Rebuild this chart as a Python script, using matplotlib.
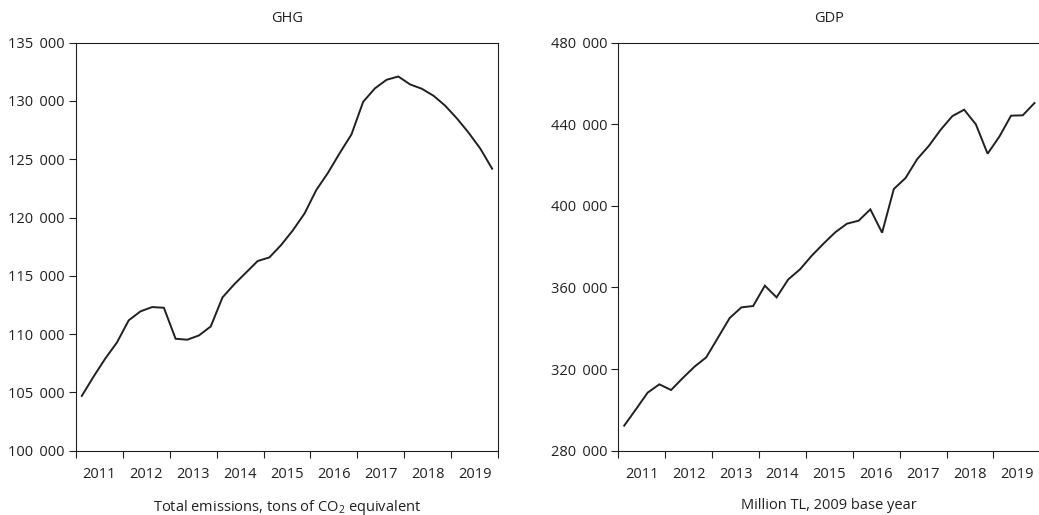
import matplotlib
matplotlib.use("Agg")
import matplotlib.pyplot as plt
import numpy as np
from matplotlib.ticker import FixedLocator, NullFormatter, FixedFormatter

plt.rcParams['font.family'] = ['Open Sans', 'Noto Sans', 'DejaVu Sans']
plt.rcParams['mathtext.fontset'] = 'custom'
plt.rcParams['mathtext.rm'] = 'Open Sans'
plt.rcParams['mathtext.it'] = 'Open Sans'

years = [2011, 2012, 2013, 2014, 2015, 2016, 2017, 2018, 2019]
year_labels = [str(y) for y in years]

ghg = [104700, 106350, 107900, 109290,
       111180, 111950, 112320, 112260,
       109600, 109520, 109890, 110660,
       113150, 114270, 115270, 116270,
       116580, 117640, 118900, 120350,
       122360, 123840, 125530, 127130,
       129930, 131080, 131820, 132100,
       131420, 131050, 130450, 129590,
       128500, 127270, 125900, 124190]

gdp = [292250, 300260, 308430, 312520,
       309740, 315620, 321180, 325750,
       335390, 345030, 350260, 350910,
       360880, 355160, 363990, 368890,
       375590, 381470, 387030, 391270,
       392750, 398300, 386860, 408270,
       413660, 422970, 429510, 437350,
       444050, 447160, 439970, 425590,
       433920, 444220, 444400, 450430]

ghg_ticks = [100000, 105000, 110000, 115000, 120000, 125000, 130000, 135000]
gdp_ticks = [280000, 320000, 360000, 400000, 440000, 480000]

ink = '#231f20'
x = np.array([y + (q + 0.5) / 4 for y in years for q in range(4)])

fig = plt.figure(figsize=(10.39, 5.15), dpi=100)
axL = fig.add_axes([0.0731, 0.1249, 0.4062, 0.7922])
axR = fig.add_axes([0.5951, 0.1249, 0.4062, 0.7922])

def fmt(v):
    return f"{v:,}".replace(",", " \u2006")

def style(ax, yvals, yticks, title, xlabel):
    ax.plot(x, yvals, color=ink, lw=1.4, solid_joinstyle='miter')
    ax.set_xlim(2011, 2020)
    ax.set_ylim(yticks[0], yticks[-1])
    ax.set_yticks(yticks)
    ax.set_yticklabels([fmt(t) for t in yticks])
    ax.xaxis.set_major_locator(FixedLocator(list(range(2011, 2021))))
    ax.xaxis.set_major_formatter(NullFormatter())
    ax.xaxis.set_minor_locator(FixedLocator([y + 0.5 for y in years]))
    ax.xaxis.set_minor_formatter(FixedFormatter(year_labels))
    ax.tick_params(axis='x', which='major', direction='out', length=5, width=0.8, color=ink)
    ax.tick_params(axis='x', which='minor', length=0, pad=12, labelsize=10.5, labelcolor=ink)
    ax.tick_params(axis='y', direction='out', length=5, width=0.8, color=ink,
                   labelsize=10.5, labelcolor=ink, pad=3)
    for s in ax.spines.values():
        s.set_linewidth(0.8)
        s.set_color(ink)
    ax.set_title(title, fontsize=10.5, color=ink, pad=15)
    ax.set_xlabel(xlabel, fontsize=10.5, color=ink, labelpad=11)

style(axL, ghg, ghg_ticks, 'GHG', r'Total emissions, tons of CO$_\mathrm{2}$ equivalent')
style(axR, gdp, gdp_ticks, 'GDP', 'Million TL, 2009 base year')

fig.savefig('out.png', dpi=100)
